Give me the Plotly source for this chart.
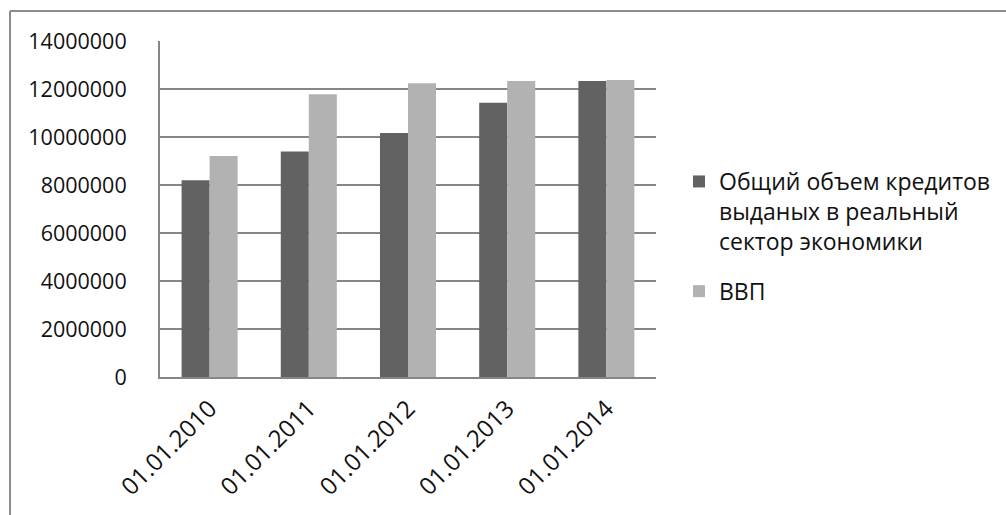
import plotly.graph_objects as go

categories = ["01.01.2010", "01.01.2011", "01.01.2012", "01.01.2013", "01.01.2014"]
credits = [8200000, 9400000, 10170000, 11430000, 12330000]
gdp = [9210000, 11780000, 12240000, 12330000, 12370000]
series_names = ["Общий объем кредитов<br>выданых в реальный<br>сектор экономики", "ВВП"]
y_ticks = [0, 2000000, 4000000, 6000000, 8000000, 10000000, 12000000, 14000000]

W, H = 1006, 515
L, R, T, B = 160, 350, 41, 138
pw, ph = W - L - R, H - T - B

def px_x(x):
    return (x - L) / pw

def px_y(y):
    return (H - B - y) / ph

FONT = "Open Sans"

fig = go.Figure()
fig.add_trace(go.Bar(x=categories, y=credits, name=series_names[0], legendgroup="a",
                     marker=dict(color="#626262", line=dict(width=0))))
fig.add_trace(go.Bar(x=categories, y=gdp, name=series_names[1], legendgroup="b",
                     marker=dict(color="#b2b2b2", line=dict(width=0))))

border = "#8c8c8c"
fig.add_shape(type="line", xref="paper", yref="paper",
              x0=px_x(10), x1=px_x(1010), y0=px_y(11), y1=px_y(11),
              line=dict(color=border, width=2))
fig.add_shape(type="line", xref="paper", yref="paper",
              x0=px_x(10), x1=px_x(10), y0=px_y(11), y1=px_y(520),
              line=dict(color=border, width=2))

fig.update_layout(
    width=W, height=H,
    margin=dict(l=L, r=R, t=T, b=B, autoexpand=False),
    paper_bgcolor="white", plot_bgcolor="white",
    font=dict(family=FONT, size=21, color="#111111"),
    barmode="group", bargap=0.435, bargroupgap=0,
    showlegend=True,
    legend=dict(x=px_x(679), y=px_y(160), xanchor="left", yanchor="top",
                valign="top", font=dict(family=FONT, size=23, color="#111111"),
                bgcolor="rgba(0,0,0,0)", traceorder="grouped", itemwidth=30,
                tracegroupgap=17),
    xaxis=dict(showline=True, linecolor="#868686", linewidth=2, showgrid=False,
               tickangle=-45, ticks="", ticklabelstandoff=6,
               tickfont=dict(family=FONT, size=24)),
    yaxis=dict(range=[0, 14000000], tickvals=y_ticks, tickformat="d",
               showgrid=True, gridcolor="#868686", gridwidth=2,
               showline=True, linecolor="#868686", linewidth=2,
               zeroline=False, ticks="", ticklabelstandoff=27,
               tickfont=dict(family=FONT, size=21.5)),
)

fig.write_html("out.html", config={"displayModeBar": False},
               post_script="document.body.style.margin='0';document.body.style.overflow='hidden';")
